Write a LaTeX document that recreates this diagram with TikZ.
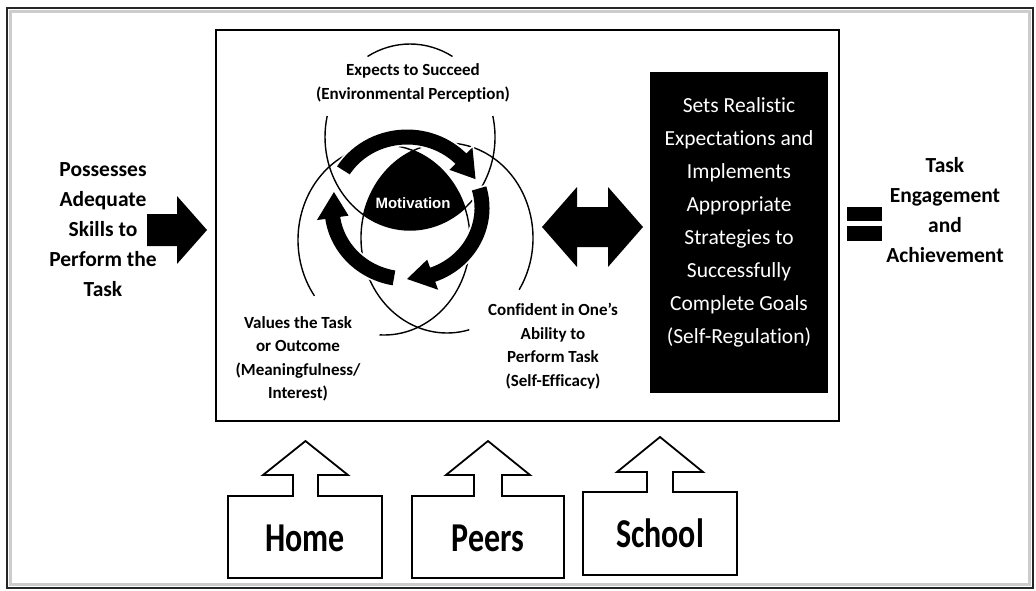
\documentclass[tikz,border=0pt]{standalone}
\usepackage{fontspec}
\usepackage{graphicx}
\setmainfont{Carlito}[Ligatures={NoCommon,TeX}]
\newfontfamily\arialfont{Liberation Sans}
\newcommand\cyclearrow[3]{%
  \fill[halo] (#1:82.5 and 78.5) arc[start angle=#1, end angle=#2, x radius=82.5, y radius=78.5]
    -- (#2:91 and 87) -- (#3:75 and 71) -- (#2:59 and 55) -- (#2:67.5 and 63.5)
    arc[start angle=#2, end angle=#1, x radius=67.5, y radius=63.5] -- cycle;}
\begin{document}
\begin{tikzpicture}[x=1pt,y=-1pt,line join=miter]
\tikzset{
  lbl/.style={align=center, inner sep=0pt, font=\bfseries\fontsize{17}{23.5}\selectfont},
  big/.style={align=center, inner sep=0pt, font=\bfseries\fontsize{21.5}{30}\selectfont},
  thinc/.style={line width=1.4pt},
  halo/.style={fill=black, preaction={draw=white, line width=3.5pt}},
  outbox/.style={draw, line width=1.8pt, fill=white},
  boxtext/.style={inner sep=0pt, font=\bfseries\fontsize{41}{41}\selectfont},
}
\useasboundingbox[fill=white] (0,0) rectangle (1036,590);
% outer frame
\draw[gray!40, line width=3pt] (10.5,11.5) rectangle (1029.5,584.5);
\draw[black!85, line width=2.2pt] (7,8) rectangle (1033,588);
% inner box
\node[draw, line width=1.5pt, minimum width=623pt, minimum height=391pt, inner sep=0pt, anchor=north west] (inner) at (215,29) {};
% black self-regulation box
\node[fill=black, minimum width=178pt, minimum height=321pt, inner sep=0pt, anchor=north west] (sr) at (650,72) {};
\node[align=center, inner sep=0pt, text=white, font=\fontsize{21.5}{33}\selectfont] (srtext) at (739,222)
  {Sets Realistic\\Expectations and\\Implements\\Appropriate\\Strategies to\\Successfully\\Complete Goals\\(Self-Regulation)};
% three ellipses
\draw[thinc] (410,137) ++(-120:85 and 93) arc[start angle=-120, end angle=-60, x radius=85, y radius=93];
\draw[thinc] (410,137) ++(-13:85 and 93) arc[start angle=-13, end angle=193, x radius=85, y radius=93];
\draw[thinc] (384,240) ++(93:86 and 95) arc[start angle=93, end angle=-216, x radius=86, y radius=95];
\draw[thinc] (447,238) ++(33:86 and 95) arc[start angle=33, end angle=-285, x radius=86, y radius=95];
% motivation blob
\begin{scope}
  \clip (384,240) ellipse [x radius=86, y radius=95];
  \clip (447,238) ellipse [x radius=86, y radius=95];
  \fill (410,137) ellipse [x radius=85, y radius=93];
\end{scope}
% cycle arrows
\begin{scope}[shift={(407,208)}]
  \cyclearrow{-148}{-44}{-24}
  \cyclearrow{-16}{70}{90}
  \cyclearrow{100}{172}{193}
\end{scope}
\node[text=white, inner sep=0pt, font=\arialfont\bfseries\fontsize{15}{15}\selectfont] (mot) at (413,203) {Motivation};
% circle labels
\node[lbl] (expects) at (413,83) {Expects to Succeed\\(Environmental Perception)};
\node[lbl] (values) at (298,359) {Values the Task\\or Outcome\\(Meaningfulness/\\Interest)};
\node[lbl] (conf) at (553,346) {Confident in One’s\\Ability to\\Perform Task\\(Self-Efficacy)};
% left text and arrow
\node[big] (skills) at (103,230) {Possesses\\Adequate\\Skills to\\Perform the\\Task};
\fill (147,214) -- (177,214) -- (177,196) -- (207,230) -- (177,264) -- (177,246) -- (147,246) -- cycle;
% double arrow
\fill (542,227) -- (577,187) -- (577,207) -- (608,207) -- (608,187) -- (643,227) -- (608,267) -- (608,247) -- (577,247) -- (577,267) -- cycle;
% equals
\fill (847,207) rectangle (882,221);
\fill (847,226) rectangle (882,241);
\node[big] (result) at (945,210) {Task\\Engagement\\and\\Achievement};
% bottom boxes
\draw[outbox] (228,578) -- (228,496) -- (293,496) -- (293,475) -- (263,475) -- (305.5,441) -- (348,475) -- (318,475) -- (318,496) -- (382,496) -- (382,578) -- cycle;
\draw[outbox] (412,578) -- (412,496) -- (474,496) -- (474,475) -- (446,475) -- (488,441) -- (530,475) -- (502,475) -- (502,496) -- (564,496) -- (564,578) -- cycle;
\draw[outbox] (583,575) -- (583,492) -- (647,492) -- (647,472) -- (617,472) -- (660,437) -- (703,472) -- (673,472) -- (673,492) -- (737,492) -- (737,575) -- cycle;
\node[boxtext] (home) at (305,538.5) {\scalebox{0.78}[1]{Home}};
\node[boxtext] (peers) at (488,538.5) {\scalebox{0.78}[1]{Peers}};
\node[boxtext] (school) at (660,533) {\scalebox{0.78}[1]{School}};
\end{tikzpicture}
\end{document}
